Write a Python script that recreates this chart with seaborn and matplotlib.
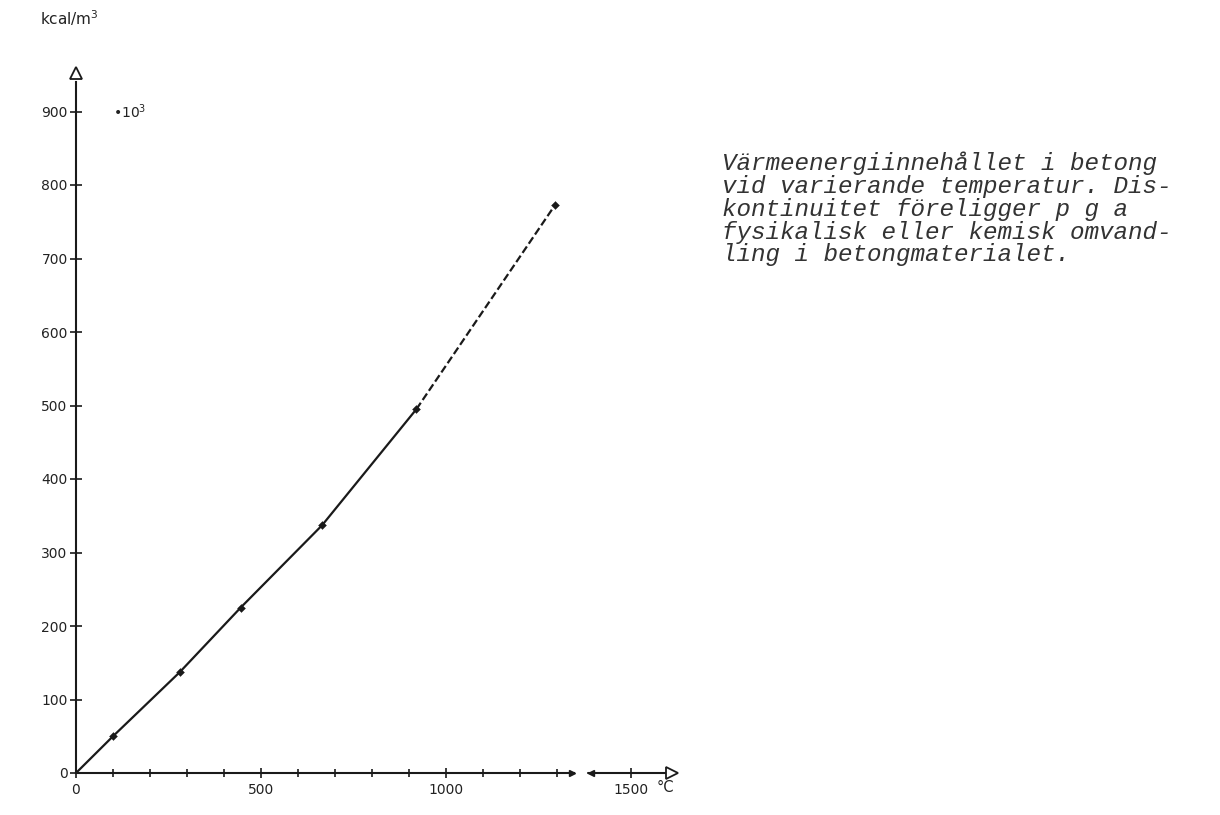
import matplotlib
matplotlib.use("Agg")
import matplotlib.pyplot as plt
import seaborn as sns
import pandas as pd
import numpy as np
from matplotlib.ticker import MultipleLocator, FixedLocator

# ---- data ----
temp_solid = [0, 100, 280, 445, 665, 920]
heat_solid = [0, 50, 137, 225, 337, 495]
temp_dashed = [920, 1295]
heat_dashed = [495, 773]
marker_temp = [100, 280, 445, 665, 920, 1295]
marker_heat = [50, 137, 225, 337, 495, 773]
x_major = [0, 500, 1000, 1500]
x_minor = [100, 200, 300, 400, 600, 700, 800, 900, 1100, 1200, 1300, 1500]
y_ticks = [0, 100, 200, 300, 400, 500, 600, 700, 800, 900]
caption_lines = [
    "Värmeenergiinnehållet i betong",
    "vid varierande temperatur. Dis-",
    "kontinuitet föreligger p g a",
    "fysikalisk eller kemisk omvand-",
    "ling i betongmaterialet.",
]

sns.set_theme(style="ticks")
plt.rcParams["font.family"] = ["DejaVu Sans"]

W, H = 1220, 815
fig = plt.figure(figsize=(W / 100, H / 100), dpi=100)
fig.patch.set_facecolor("white")

ox, oy = 76, 773          # pixel origin
xmax, ymax = 1620, 970
ax = fig.add_axes([ox / W, (H - oy) / H, xmax * 0.37 / W, ymax * 0.735 / H])
ax.set_facecolor("white")
ax.set_xlim(0, xmax)
ax.set_ylim(0, ymax)

df_s = pd.DataFrame({"T": temp_solid, "Q": heat_solid})
df_d = pd.DataFrame({"T": temp_dashed, "Q": heat_dashed})
df_m = pd.DataFrame({"T": marker_temp, "Q": marker_heat})
sns.lineplot(data=df_s, x="T", y="Q", ax=ax, color="#1a1a1a", lw=1.6, sort=False)
sns.lineplot(data=df_d, x="T", y="Q", ax=ax, color="#1a1a1a", lw=1.6, sort=False,
             linestyle=(0, (3.5, 1.5)))
sns.scatterplot(data=df_m, x="T", y="Q", ax=ax, color="#1a1a1a", marker="D", s=16,
                edgecolor="#1a1a1a", zorder=5)

# axes spines
for s in ["top", "right"]:
    ax.spines[s].set_visible(False)
ax.spines["left"].set_bounds(0, 940)
ax.spines["bottom"].set_bounds(0, 1345)
for s in ["left", "bottom"]:
    ax.spines[s].set_linewidth(1.5)
    ax.spines[s].set_color("#1a1a1a")

# second x-axis segment after the break, and arrowheads
ax.plot([1385, 1605], [0, 0], color="#1a1a1a", lw=1.5, clip_on=False)
ax.plot([1610], [0], marker=">", ms=8, mfc="white", mec="#1a1a1a", mew=1.3, clip_on=False)
ax.plot([0], [952], marker="^", ms=8, mfc="white", mec="#1a1a1a", mew=1.3, clip_on=False)
ax.plot([1340], [0], marker=">", ms=4, color="#1a1a1a", clip_on=False)
ax.plot([1392], [0], marker="<", ms=4, color="#1a1a1a", clip_on=False)

ax.xaxis.set_major_locator(FixedLocator(x_major))
ax.xaxis.set_minor_locator(FixedLocator(x_minor))
ax.yaxis.set_major_locator(FixedLocator(y_ticks))
ax.tick_params(axis="both", which="both", direction="inout", color="#1a1a1a",
               width=1.2, labelsize=10, labelcolor="#222222")
ax.tick_params(axis="x", which="major", length=7, pad=4)
ax.tick_params(axis="x", which="minor", length=6)
ax.tick_params(axis="y", which="major", length=8, pad=2)
ax.set_xlabel("")
ax.set_ylabel("")

# unit labels
fig.text(40 / W, 1 - 18 / H, "kcal/m$^3$", fontsize=11, color="#222222",
         ha="left", va="center")
fig.text(113 / W, 1 - 112 / H, "•10$^3$", fontsize=10, color="#222222",
         ha="left", va="center")
fig.text(657 / W, 1 - 787 / H, "°C", fontsize=10.5, color="#222222",
         ha="left", va="center")

# caption
line_y = [163, 186, 209, 232, 255]
for txt, yy in zip(caption_lines, line_y):
    fig.text(722 / W, 1 - yy / H, txt, fontsize=17.5, family="Liberation Mono",
             style="italic", color="#333333", ha="left", va="center")

fig.savefig("out.png", dpi=100, facecolor="white")
